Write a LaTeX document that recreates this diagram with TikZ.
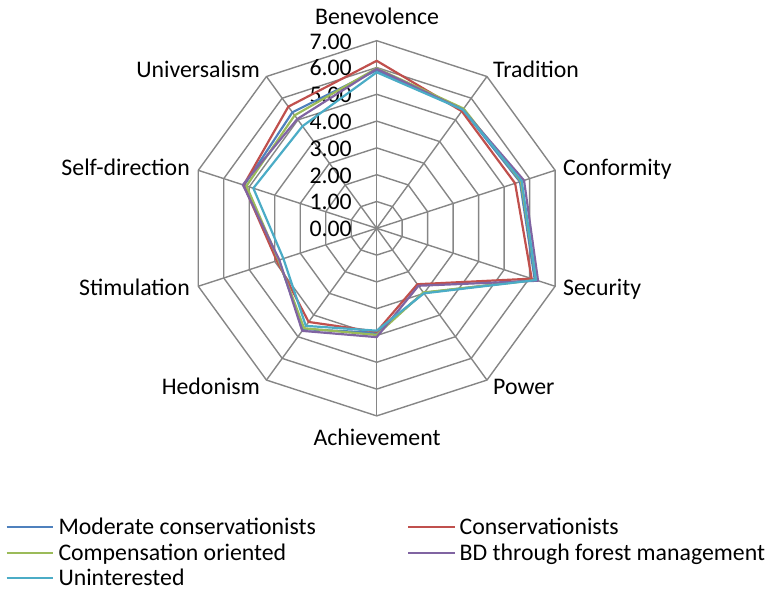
\documentclass[tikz,border=0pt]{standalone}
\usepackage{fontspec}
\setmainfont{Carlito}
\definecolor{gridgray}{HTML}{868686}
\definecolor{sblue}{HTML}{4F81BD}
\definecolor{sred}{HTML}{C0504D}
\definecolor{sgreen}{HTML}{9BBB59}
\definecolor{spurple}{HTML}{8064A2}
\definecolor{scyan}{HTML}{4BACC6}
\newcommand\radarline[2]{%
  \foreach [count=\i] \v in {#2} {
    \coordinate (p\i) at ({90-36*(\i-1)}:{\v*26.8});
  }
  \draw[series,#1] (p1)--(p2)--(p3)--(p4)--(p5)--(p6)--(p7)--(p8)--(p9)--(p10)--cycle;
}
\begin{document}
\begin{tikzpicture}[x=1pt,y=1pt,
  gridline/.style={draw=gridgray, line width=1.4pt},
  series/.style={line width=2.2pt, line join=round},
  legline/.style={line width=2pt},
  lbl/.style={inner sep=0pt, font=\fontsize{23.8}{28}\selectfont}]
\useasboundingbox (0,0) rectangle (767,589);
\begin{scope}[shift={(376.7,360.7)}]
  % rings
  \foreach \r in {1,...,7} {
    \draw[gridline] (90:\r*26.8) -- (54:\r*26.8) -- (18:\r*26.8) -- (-18:\r*26.8) -- (-54:\r*26.8)
      -- (-90:\r*26.8) -- (-126:\r*26.8) -- (-162:\r*26.8) -- (162:\r*26.8) -- (126:\r*26.8) -- cycle;
  }
  % spokes
  \foreach \a in {90,54,18,-18,-54,-90,-126,-162,162,126} {
    \draw[gridline] (0,0) -- (\a:187.6);
  }
\end{scope}
% tick labels
\foreach \v/\t in {0/0.00,1/1.00,2/2.00,3/3.00,4/4.00,5/5.00,6/6.00,7/7.00} {
  \node[lbl, anchor=base east] (tick\v) at (352,{352.3+26.8*\v}) {\t};
}
% data series
\begin{scope}[shift={(376.7,360.7)}]
  \radarline{sblue}{5.90,5.47,5.62,6.20,2.98,3.90,4.65,3.85,5.20,5.35}
  \radarline{sred}{6.25,5.40,5.43,6.08,2.58,3.86,4.32,3.92,5.22,5.61}
  \radarline{sgreen}{5.97,5.52,5.66,6.25,2.96,3.98,4.61,3.85,5.11,5.21}
  \radarline{spurple}{5.95,5.47,5.78,6.33,2.65,4.06,4.73,3.82,5.25,5.04}
  \radarline{scyan}{5.82,5.47,5.69,6.25,3.00,3.82,4.50,3.66,4.84,4.71}
\end{scope}
% axis labels
\node[lbl, anchor=base] (benev) at (377,564.5) {Benevolence};
\node[lbl, anchor=base west] (trad) at (493,511.5) {Tradition};
\node[lbl, anchor=base west] (conf) at (563,413.5) {Conformity};
\node[lbl, anchor=base west] (secu) at (563,293.5) {Security};
\node[lbl, anchor=base west] (powr) at (493,194.5) {Power};
\node[lbl, anchor=base] (achv) at (377,143.5) {Achievement};
\node[lbl, anchor=base east] (hedo) at (260,194.5) {Hedonism};
\node[lbl, anchor=base east] (stim) at (190,293.5) {Stimulation};
\node[lbl, anchor=base east] (self) at (190,413.5) {Self-direction};
\node[lbl, anchor=base east] (univ) at (260,511.5) {Universalism};
% legend
\coordinate (l1a) at (6.7,62.3);  \coordinate (l1b) at (53.3,62.3);
\coordinate (l2a) at (6.7,36.3);  \coordinate (l2b) at (53.3,36.3);
\coordinate (l3a) at (6.7,10.7);  \coordinate (l3b) at (53.3,10.7);
\coordinate (l4a) at (408,62.3);  \coordinate (l4b) at (455,62.3);
\coordinate (l5a) at (408,36.3);  \coordinate (l5b) at (455,36.3);
\draw[legline, sblue] (l1a) -- (l1b);
\draw[legline, sgreen] (l2a) -- (l2b);
\draw[legline, scyan] (l3a) -- (l3b);
\draw[legline, sred] (l4a) -- (l4b);
\draw[legline, spurple] (l5a) -- (l5b);
\node[lbl, anchor=base west] (leg1) at (58.3,54.8) {Moderate conservationists};
\node[lbl, anchor=base west] (leg2) at (58.3,28.8) {Compensation oriented};
\node[lbl, anchor=base west] (leg3) at (58.3,3.8) {Uninterested};
\node[lbl, anchor=base west] (leg4) at (459.5,54.8) {Conservationists};
\node[lbl, anchor=base west] (leg5) at (459.5,28.8) {BD through forest management};
\end{tikzpicture}
\end{document}
